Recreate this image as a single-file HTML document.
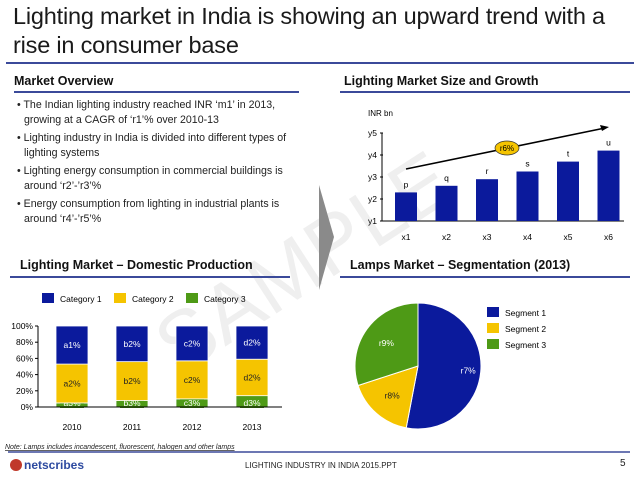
<!DOCTYPE html>
<html><head><meta charset="utf-8"><style>
body{margin:0;width:638px;height:479px;background:#fff;font-family:"Liberation Sans",sans-serif;position:relative;overflow:hidden;color:#222}
.abs{position:absolute}
.title{left:13px;top:2px;font-size:23.5px;line-height:29px;color:#1a1a1a;letter-spacing:-0.2px}
.hdr{font-size:12.5px;font-weight:bold;color:#111}
.hline{height:2px;background:#3b4a9a}
ul{margin:0;padding:0;list-style:none}
li{font-size:10.6px;line-height:15px;padding-left:9px;text-indent:-7px;margin-bottom:3px}
</style></head><body>
<svg class="abs" style="left:0;top:0" width="638" height="479">
<text x="305" y="290" font-size="82" fill="#efefef" text-anchor="middle" font-family="Liberation Sans" transform="rotate(-33 305 265)">SAMPLE</text>
</svg>
<div class="abs title">Lighting market in India is showing an upward trend with a<br>rise in consumer base</div>
<div class="abs hline" style="left:6px;top:62px;width:628px"></div>

<div class="abs hdr" style="left:14px;top:74px">Market Overview</div>
<div class="abs hline" style="left:14px;top:91px;width:285px"></div>
<ul class="abs" style="left:15px;top:98px;width:290px">
<li>• The Indian lighting industry reached INR ‘m1’ in 2013, growing at a CAGR of ‘r1’% over 2010-13</li>
<li>• Lighting industry in India is divided into different types of lighting systems</li>
<li>• Lighting energy consumption in commercial buildings is around ‘r2’-’r3’%</li>
<li>• Energy consumption from lighting in industrial plants is around ‘r4’-’r5’%</li>
</ul>

<div class="abs hdr" style="left:344px;top:74px">Lighting Market Size and Growth</div>
<div class="abs hline" style="left:340px;top:91px;width:290px"></div>

<div class="abs hdr" style="left:20px;top:258px">Lighting Market – Domestic Production</div>
<div class="abs hline" style="left:10px;top:276px;width:280px"></div>
<div class="abs hdr" style="left:350px;top:258px">Lamps Market – Segmentation (2013)</div>
<div class="abs hline" style="left:340px;top:276px;width:290px"></div>

<svg class="abs" style="left:0;top:0" width="638" height="479">
<polygon points="319,185 334,237 319,290" fill="#8a8a8a"/>
<g id="bar"></g><g id="stack"></g><g id="pie"></g>
<line x1="8" y1="452" x2="630" y2="452" stroke="#3b4a9a" stroke-width="1.5"/>
<circle cx="16" cy="465" r="6" fill="#c0392b"/>
<text x="24" y="469" font-size="12" font-weight="bold" fill="#2d4aa0">netscribes</text>
<text x="245" y="468" font-size="8" fill="#222">LIGHTING INDUSTRY IN INDIA 2015.PPT</text>
<text x="620" y="466" font-size="10" fill="#222">5</text>
<text x="5" y="449" font-size="7" font-style="italic" fill="#222" text-decoration="underline">Note: Lamps includes incandescent, fluorescent, halogen and other lamps</text>
</svg>
<script>
const NS="http://www.w3.org/2000/svg";
function mk(p,t,a,txt){const e=document.createElementNS(NS,t);for(const k in a)e.setAttribute(k,a[k]);if(txt!=null)e.textContent=txt;p.appendChild(e);return e;}
// Market size
const sizeCats=["x1","x2","x3","x4","x5","x6"];
const sizeVals=[2.3,2.6,2.9,3.25,3.7,4.2];
const sizeLabels=["p","q","r","s","t","u"];
const sizeTicks=[1,2,3,4,5];
const sizeTickLabels=["y1","y2","y3","y4","y5"];
// Domestic production
const years=["2010","2011","2012","2013"];
const cat1=[47,44,43,41];
const cat2=[48,48,47,45];
const cat3=[5,8,10,14];
const lab1=["a1%","b2%","c2%","d2%"],lab2=["a2%","b2%","c2%","d2%"],lab3=["a3%","b3%","c3%","d3%"];
const pctTicks=[0,20,40,60,80,100];
// Pie
const segNames=["Segment 1","Segment 2","Segment 3"];
const segVals=[53,17,30];
const segLabels=["r7%","r8%","r9%"];

const BLUE="#0b1a9c",YEL="#f5c400",GRN="#4e9a16";
{const g=document.getElementById('bar');
const y=v=>221-(v-1)*22, x=i=>406+i*40.5;
let t=mk(g,'text',{x:368,y:116,'font-size':8});
t.textContent="INR bn";
sizeTicks.forEach((v,i)=>{let e=mk(g,'text',{x:377,y:y(v)+3,'font-size':8.5,'text-anchor':'end'},sizeTickLabels[i]);

mk(g,'line',{x1:380,x2:383,y1:y(v),y2:y(v),stroke:'#000'});});
mk(g,'line',{x1:382,x2:382,y1:y(5),y2:y(1),stroke:'#000'});
mk(g,'line',{x1:382,x2:624,y1:y(1),y2:y(1),stroke:'#000'});
sizeVals.forEach((v,i)=>{let r=mk(g,'rect',{x:x(i)-11,y:y(v),width:22,height:y(1)-y(v),fill:BLUE});

let l=mk(g,'text',{x:x(i),y:y(v)-5,'font-size':8.5,'text-anchor':'middle'},sizeLabels[i]);

let c=mk(g,'text',{x:x(i),y:240,'font-size':8.5,'text-anchor':'middle'},sizeCats[i]);
});
let a=mk(g,'line',{x1:406,y1:169,x2:605,y2:128,stroke:'#000','stroke-width':1.6});

mk(g,'polygon',{points:'609,127 600,125 602,131',fill:'#000'});
let el=mk(g,'ellipse',{cx:507,cy:148,rx:12,ry:7,fill:'#f5c400',stroke:'#333','stroke-width':0.7});

mk(g,'text',{x:507,y:151,'font-size':8,'text-anchor':'middle'},'r6%');}
{const g=document.getElementById('stack');
const y=v=>407-v*0.81, x=i=>72+i*60;
const leg=[["Category 1",BLUE,42],["Category 2",YEL,114],["Category 3",GRN,186]];
leg.forEach(l=>{let r=mk(g,'rect',{x:l[2],y:293,width:12,height:10,fill:l[1]});

let t=mk(g,'text',{x:l[2]+18,y:302,'font-size':8.5},l[0]);
});
pctTicks.forEach(v=>{let t=mk(g,'text',{x:33,y:y(v)+3,'font-size':8.5,'text-anchor':'end'},v+'%');

mk(g,'line',{x1:35,x2:38,y1:y(v),y2:y(v),stroke:'#000'});});
mk(g,'line',{x1:38,x2:38,y1:y(100),y2:y(0),stroke:'#000'});
years.forEach((yr,i)=>{const segs=[[cat3[i],GRN,lab3[i],'#fff'],[cat2[i],YEL,lab2[i],'#222'],[cat1[i],BLUE,lab1[i],'#fff']];
let base=0;segs.forEach((s,k)=>{let r=mk(g,'rect',{x:x(i)-16,y:y(base+s[0]),width:32,height:y(base)-y(base+s[0]),fill:s[1],stroke:'#fff','stroke-width':0.8});

let ly=k==0?y(0)-1:y(base+s[0]/2)+3;
if(k==0){let bg=mk(g,'rect',{x:x(i)-12,y:ly-8,width:24,height:10,fill:GRN});
}
let t=mk(g,'text',{x:x(i),y:ly,'font-size':8.5,'text-anchor':'middle',fill:s[3]},s[2]);

base+=s[0];});
let c=mk(g,'text',{x:x(i),y:430,'font-size':8.5,'text-anchor':'middle'},yr);
});
mk(g,'line',{x1:38,x2:282,y1:y(0),y2:y(0),stroke:'#000'});}
{const g=document.getElementById('pie');const cx=418,cy=366,R=63;
const tot=segVals.reduce((a,b)=>a+b,0);const cols=[BLUE,YEL,GRN];let ang=0;
segVals.forEach((v,i)=>{const a0=ang,a1=ang+v/tot*2*Math.PI;ang=a1;
const p=a=>[cx+R*Math.sin(a),cy-R*Math.cos(a)];const [x0,y0]=p(a0),[x1,y1]=p(a1);
let s=mk(g,'path',{d:`M${cx},${cy}L${x0},${y0}A${R},${R} 0 ${a1-a0>Math.PI?1:0} 1 ${x1},${y1}Z`,fill:cols[i],stroke:'#fff','stroke-width':1});

const m=(a0+a1)/2,rr=i==0?R*0.8:R*0.62;
let t=mk(g,'text',{x:cx+rr*Math.sin(m),y:cy-rr*Math.cos(m)+3,'font-size':8.5,'text-anchor':'middle',fill:i==1?'#222':'#fff'},segLabels[i]);

let r=mk(g,'rect',{x:487,y:307+i*16,width:12,height:10,fill:cols[i]});

let lt=mk(g,'text',{x:505,y:316+i*16,'font-size':8.5},segNames[i]);
});}
</script>
</body></html>
